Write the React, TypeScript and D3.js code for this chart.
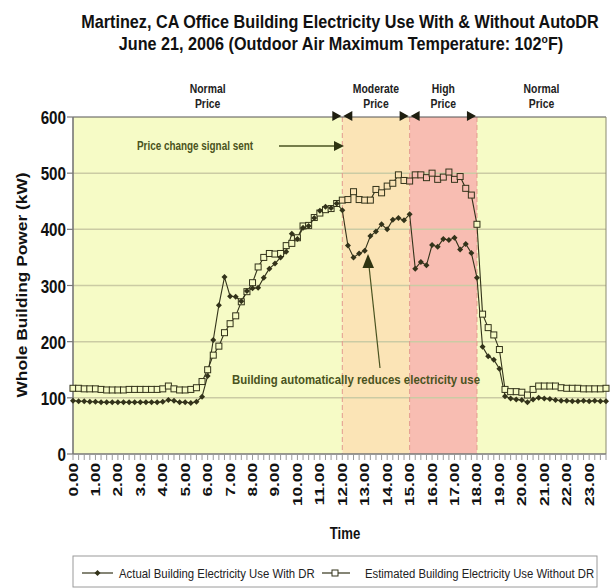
import React from "react";
import * as d3 from "d3";

// 15-minute readings, kW (4 per hour, 0:00 .. 23:45)
const withDR = [
  95, 94, 94, 93, 93, 92, 92, 92, 92, 92, 92, 92, 92, 92, 92, 92,
  93, 96, 95, 92, 92, 91, 93, 102, 139, 203, 265, 315, 281, 280, 272, 290,
  295, 296, 314, 330, 339, 350, 360, 392, 383, 403, 406, 420, 433, 440, 438, 446,
  434, 371, 350, 357, 362, 388, 396, 409, 400, 417, 420, 416, 427, 330, 342, 336,
  372, 369, 383, 381, 385, 364, 374, 358, 314, 191, 174, 168, 152, 103, 99, 97,
  96, 92, 97, 100, 99, 98, 96, 95, 95, 94, 94, 95, 94, 95, 94, 94,
];
const withoutDR = [
  117, 117, 116, 116, 116, 115, 114, 114, 114, 114, 115, 115, 115, 115, 115, 115,
  116, 121, 116, 114, 114, 115, 118, 129, 150, 176, 192, 216, 232, 246, 271, 289,
  305, 333, 350, 357, 356, 357, 371, 375, 385, 406, 407, 421, 429, 435, 437, 446,
  452, 453, 467, 453, 452, 452, 471, 465, 477, 482, 497, 487, 486, 497, 497, 492,
  500, 489, 493, 502, 489, 494, 473, 461, 409, 249, 225, 212, 186, 115, 111, 111,
  110, 105, 115, 121, 121, 121, 121, 118, 117, 117, 117, 116, 116, 116, 116, 117,
];
const times = withDR.map((_, i) => i / 4);

const xTickLabels = [
  "0.00", "1.00", "2.00", "3.00", "4.00", "5.00", "6.00", "7.00", "8.00", "9.00", "10.00", "11.00",
  "12.00", "13.00", "14.00", "15.00", "16.00", "17.00", "18.00", "19.00", "20.00", "21.00", "22.00", "23.00",
];
const yTicks = [0, 100, 200, 300, 400, 500, 600];

const periodNames = ["Normal", "Moderate", "High", "Normal"];
const periodStart = [0, 12, 15, 18];
const periodEnd = [12, 15, 18, 23.75];
const periodFill = ["#f6fbc6", "#fbe4b6", "#f8bdb2", "#f6fbc6"];

const seriesNames = [
  "Actual Building Electricity Use With DR",
  "Estimated Building Electricity Use Without DR",
];

const W = 611;
const H = 588;
const ink = "#33331a";
const olive = "#4a5320";
const font = "'Liberation Sans', Arial, sans-serif";

const x = d3.scaleLinear().domain([0, 23.75]).range([73, 606]);
const y = d3.scaleLinear().domain([0, 600]).range([454, 117]);

const bandFill = (t: number) => {
  for (let k = periodStart.length - 1; k >= 0; k--) if (t >= periodStart[k]) return periodFill[k];
  return periodFill[0];
};

export default function App() {
  const line = d3
    .line<number>()
    .x((_, i) => x(times[i]))
    .y((d) => y(d));

  return (
    <svg
      width={W}
      height={H}
      style={{ position: "absolute", left: 0, top: 0, background: "#fff" }}
      fontFamily={font}
    >
      {/* title */}
      <text transform="translate(340,28) scale(0.9,1)" textAnchor="middle" fontSize={18} fontWeight="bold" fill="#111">
        Martinez, CA Office Building Electricity Use With &amp; Without AutoDR
      </text>
      <text transform="translate(341,50) scale(0.9,1)" textAnchor="middle" fontSize={18} fontWeight="bold" fill="#111">
        <tspan>June 21, 2006 (Outdoor Air Maximum Temperature: 102</tspan>
        <tspan fontSize={11.5} dy={-7}>o</tspan>
        <tspan dy={7}>F)</tspan>
      </text>

      {/* price bands */}
      {periodNames.map((n, k) => (
        <rect
          key={"b" + k}
          x={x(periodStart[k])}
          y={y(600)}
          width={x(periodEnd[k]) - x(periodStart[k])}
          height={y(0) - y(600)}
          fill={periodFill[k]}
        />
      ))}
      {periodNames.map((n, k) => {
        const cx = x((periodStart[k] + periodEnd[k]) / 2);
        return (
          <g key={"pl" + k} fontSize={13} fontWeight="bold" fill="#222" textAnchor="middle">
            <text transform={`translate(${cx},93) scale(0.8,1)`}>{n}</text>
            <text transform={`translate(${cx},108) scale(0.8,1)`}>Price</text>
          </g>
        );
      })}

      {/* grid */}
      {yTicks.slice(1, -1).map((v) => (
        <line key={"g" + v} x1={x(0)} x2={x(23.75)} y1={y(v)} y2={y(v)} stroke="#cbcba4" strokeWidth={1.5} />
      ))}
      {periodStart.slice(1).map((t) => (
        <line key={"d" + t} x1={x(t)} x2={x(t)} y1={y(600)} y2={y(0)} stroke="#e39a8c" strokeWidth={1} strokeDasharray="5,3" />
      ))}

      {/* frame */}
      <line x1={x(0)} x2={x(23.75)} y1={y(600)} y2={y(600)} stroke="#555" strokeWidth={1.2} />
      <line x1={x(23.75)} x2={x(23.75)} y1={y(600)} y2={y(0)} stroke="#8a8a70" strokeWidth={1} />
      <line x1={x(0)} x2={x(0)} y1={y(600)} y2={y(0)} stroke="#777" strokeWidth={1.6} />
      <line x1={x(0)} x2={x(23.75)} y1={y(0)} y2={y(0)} stroke="#777" strokeWidth={1.6} />

      {/* top arrows at period changes */}
      {periodStart.slice(1).map((t, k) => {
        const px = x(t);
        const ty = y(600) - 1;
        return (
          <g key={"ta" + t} fill="#1e1e10">
            <path d={`M${px - 1},${ty} L${px - 10},${ty - 5} L${px - 10},${ty + 5} Z`} />
            {k < 2 && <path d={`M${px + 1},${ty} L${px + 10},${ty - 5} L${px + 10},${ty + 5} Z`} />}
          </g>
        );
      })}

      {/* y axis */}
      {yTicks.map((v) => (
        <g key={"y" + v}>
          <line x1={x(0) - 6} x2={x(0)} y1={y(v)} y2={y(v)} stroke="#777" strokeWidth={1.2} />
          <text transform={`translate(66,${y(v) + 7}) scale(0.8,1)`} textAnchor="end" fontSize={19} fontWeight="bold" fill="#111">
            {v}
          </text>
        </g>
      ))}
      <text
        transform="translate(27,285) rotate(-90)"
        textAnchor="middle"
        fontSize={15.5}
        fontWeight="bold"
        textLength={225}
        lengthAdjust="spacingAndGlyphs"
        fill="#111"
      >
        Whole Building Power (kW)
      </text>

      {/* x axis */}
      {times.map((t, i) => (
        <line key={"xt" + i} x1={x(t)} x2={x(t)} y1={y(0)} y2={y(0) + 6} stroke="#999" strokeWidth={1} />
      ))}
      {xTickLabels.map((lab, h) => (
        <text
          key={"xl" + h}
          transform={`translate(${x(h) + 4.5},463) rotate(-90) scale(1.38,1)`}
          textAnchor="end"
          fontSize={12.5}
          fontWeight="bold"
          fill="#111"
        >
          {lab}
        </text>
      ))}
      <text transform="translate(345,539) scale(0.82,1)" textAnchor="middle" fontSize={16} fontWeight="bold" fill="#111">
        Time
      </text>

      {/* series */}
      <path d={line(withoutDR) ?? ""} fill="none" stroke={ink} strokeWidth={1.1} />
      <path d={line(withDR) ?? ""} fill="none" stroke={ink} strokeWidth={1.1} />
      {withoutDR.map((v, i) => (
        <rect
          key={"s" + i}
          x={x(times[i]) - 3}
          y={y(v) - 3}
          width={6}
          height={6}
          fill={bandFill(times[i])}
          stroke={ink}
          strokeWidth={1}
        />
      ))}
      {withDR.map((v, i) => (
        <path key={"p" + i} d={`M${x(times[i])},${y(v) - 3} l3,3 l-3,3 l-3,-3 Z`} fill={ink} />
      ))}

      {/* annotations */}
      <text x={137} y={150} fontSize={12} fontWeight="bold" fill={olive} textLength={116} lengthAdjust="spacingAndGlyphs">
        Price change signal sent
      </text>
      <line x1={279} x2={335} y1={146} y2={146} stroke={olive} strokeWidth={1.4} />
      <path d="M344,146 L334,141 L334,151 Z" fill="#2f3512" />

      <text x={232} y={384} fontSize={13} fontWeight="bold" fill={olive} textLength={248} lengthAdjust="spacingAndGlyphs">
        Building automatically reduces electricity use
      </text>
      <line x1={380} x2={369} y1={368} y2={266} stroke={olive} strokeWidth={1.2} />
      <path d="M368,254 L362.5,268 L374,268 Z" fill="#2f3512" />

      {/* legend */}
      <rect x={73} y={556} width={524} height={31} fill="#fff" stroke="#9a9a9a" strokeWidth={1} />
      <line x1={82} x2={113} y1={573} y2={573} stroke={ink} strokeWidth={1.2} />
      <path d="M97.5,570 l3,3 l-3,3 l-3,-3 Z" fill={ink} />
      <text transform="translate(119,577.5) scale(0.91,1)" fontSize={12.5} fill="#222">
        {seriesNames[0]}
      </text>
      <line x1={322} x2={350} y1={573} y2={573} stroke={ink} strokeWidth={1.2} />
      <rect x={332} y={570} width={6} height={6} fill="#fff" stroke={ink} strokeWidth={1} />
      <text transform="translate(365,577.5) scale(0.905,1)" fontSize={12.5} fill="#222">
        {seriesNames[1]}
      </text>
    </svg>
  );
}
